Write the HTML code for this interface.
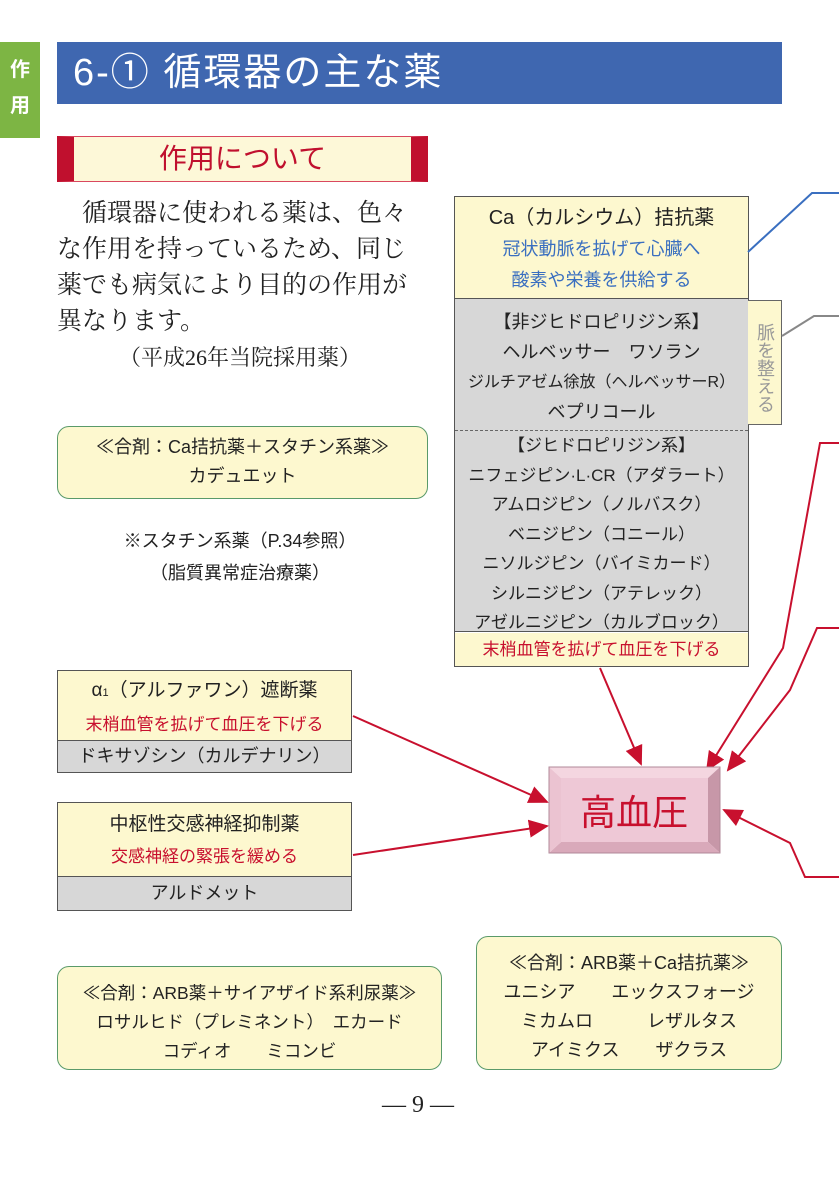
<!DOCTYPE html>
<html><head><meta charset="utf-8"><style>
body{margin:0;width:839px;height:1190px;background:#fff;position:relative;overflow:hidden;font-family:"Liberation Sans","Noto Sans CJK JP",sans-serif;color:#222}
.a{position:absolute;box-sizing:border-box}
.c{text-align:center}
.y{background:#fdf8cf}
.g{background:#d7d7d7}
.r{color:#c8102e}
.b{color:#3a6fc0}
.serif{font-family:"Liberation Serif","Noto Serif CJK SC",serif}
.combo{border:1.5px solid #5a9a6a;border-radius:12px;background:#fdf8cf;text-align:center;font-size:18px;line-height:29px}
</style></head><body>
<div class="a" style="left:0;top:42px;width:40px;height:96px;background:#7db544;color:#fff;font-size:20px;font-weight:bold;line-height:36px;padding-top:10px;text-align:center">作<br>用</div>
<div class="a" style="left:57px;top:42px;width:725px;height:62px;background:#3f67b0;color:#fff;font-size:38px;line-height:62px;padding-left:16px;letter-spacing:2px">6-①&nbsp;循環器の主な薬</div>
<div class="a" style="left:57px;top:136px;width:371px;height:46px;background:#fdf8d8;border:1px solid #d9485f;border-left:17px solid #c0102e;border-right:17px solid #c0102e;color:#c0102e;font-size:28px;line-height:44px;text-align:center">作用について</div>
<div class="a serif" style="left:57px;top:196px;width:380px;font-size:25px;line-height:36px">　循環器に使われる薬は、色々<br>な作用を持っているため、同じ<br>薬でも病気により目的の作用が<br>異なります。</div>
<div class="a serif c" style="left:90px;top:341px;width:300px;font-size:22px">（平成26年当院採用薬）</div>
<div class="a combo" style="left:57px;top:426px;width:371px;height:73px;padding-top:6px">≪合剤：Ca拮抗薬＋スタチン系薬≫<br>カデュエット</div>
<div class="a c" style="left:60px;top:525px;width:360px;font-size:18px;line-height:32px">※スタチン系薬（P.34参照）<br>（脂質異常症治療薬）</div>

<div class="a" style="left:454px;top:196px;width:295px;height:471px;border:1.5px solid #555"></div>
<div class="a y c" style="left:455px;top:197px;width:293px;height:101px;padding-top:6px;font-size:19px;line-height:30px"><span style="font-size:20px">Ca（カルシウム）拮抗薬</span><br><span class="b" style="font-size:18px">冠状動脈を拡げて心臓へ<br>酸素や栄養を供給する</span></div>
<div class="a g c" style="left:455px;top:298px;width:293px;height:334px;border-top:1.5px solid #555;border-bottom:1.5px solid #555;font-size:18px;line-height:29.5px;padding-top:9px">【非ジヒドロピリジン系】<br>ヘルベッサー　ワソラン<br><span style="font-size:16px">ジルチアゼム徐放（ヘルベッサーR）</span><br>ベプリコール<div style="border-top:1.5px dashed #666;margin:3px 0 0"></div><span style="font-size:17px">【ジヒドロピリジン系】<br>ニフェジピン·L·CR（アダラート）<br>アムロジピン（ノルバスク）<br>ベニジピン（コニール）<br>ニソルジピン（バイミカード）<br>シルニジピン（アテレック）<br>アゼルニジピン（カルブロック）</span></div>
<div class="a y c r" style="left:455px;top:633px;width:293px;height:33px;font-size:17px;line-height:33px">末梢血管を拡げて血圧を下げる</div>
<div class="a y" style="left:748px;top:300px;width:34px;height:125px;border:1.5px solid #666;border-left:none;color:#999;font-size:18px;line-height:21px;text-align:center;padding-top:10px;writing-mode:vertical-rl;padding-right:6px">脈を整える</div>

<div class="a" style="left:57px;top:670px;width:295px;height:103px;border:1.5px solid #555"></div>
<div class="a y c" style="left:58px;top:671px;width:293px;height:69px;font-size:19px;line-height:31px;padding-top:4px">α<span style="font-size:11px">1</span>（アルファワン）遮断薬<br><span class="r" style="font-size:17px">末梢血管を拡げて血圧を下げる</span></div>
<div class="a g c" style="left:58px;top:740px;width:293px;height:32px;border-top:1.5px solid #555;font-size:18px;line-height:31px">ドキサゾシン（カルデナリン）</div>

<div class="a" style="left:57px;top:802px;width:295px;height:109px;border:1.5px solid #555"></div>
<div class="a y c" style="left:58px;top:803px;width:293px;height:73px;font-size:19px;line-height:32px;padding-top:6px">中枢性交感神経抑制薬<br><span class="r" style="font-size:17px">交感神経の緊張を緩める</span></div>
<div class="a g c" style="left:58px;top:876px;width:293px;height:34px;border-top:1.5px solid #555;font-size:18px;line-height:33px">アルドメット</div>

<div class="a combo" style="left:57px;top:966px;width:385px;height:104px;padding-top:12px;font-size:17.5px">≪合剤：ARB薬＋サイアザイド系利尿薬≫<br>ロサルヒド（プレミネント）　エカード<br>コディオ　　ミコンビ</div>
<div class="a combo" style="left:476px;top:936px;width:306px;height:134px;padding-top:12px">≪合剤：ARB薬＋Ca拮抗薬≫<br>ユニシア　　エックスフォージ<br>ミカムロ　　　レザルタス<br>アイミクス　　ザクラス</div>
<div class="a serif c" style="left:318px;top:1092px;width:200px;font-size:24px">— 9 —</div>

<svg class="a" style="left:0;top:0" width="839" height="1190">
<defs>
<marker id="M" markerWidth="20" markerHeight="18" refX="18" refY="9" orient="auto" markerUnits="userSpaceOnUse"><path d="M0,0L20,9L0,18z" fill="#c8102e"/></marker></defs>
<polyline points="748,252 812,193 839,193" fill="none" stroke="#3a6fc0" stroke-width="2"/>
<polyline points="782,336 814,316 839,316" fill="none" stroke="#888" stroke-width="2"/>
<g fill="none" stroke="#c8102e" stroke-width="2">
<polyline points="839,443 820,443 783,648 707,770" marker-end="url(#M)"/>
<polyline points="839,628 817,628 790,690 728,770" marker-end="url(#M)"/>
<polyline points="839,877 805,877 790,843 724,810" marker-end="url(#M)"/>
<line x1="600" y1="668" x2="641" y2="764" marker-end="url(#M)"/>
<line x1="353" y1="716" x2="547" y2="802" marker-end="url(#M)"/>
<line x1="353" y1="855" x2="547" y2="826" marker-end="url(#M)"/>
</g>
<polygon points="549,767 720,767 708,778 561,778" fill="#f4d6e0"/>
<polygon points="720,767 720,853 708,842 708,778" fill="#c797a8"/>
<polygon points="549,853 720,853 708,842 561,842" fill="#d9a9ba"/>
<polygon points="549,767 549,853 561,842 561,778" fill="#ebc3d1"/>
<rect x="561" y="778" width="147" height="64" fill="#eec8d6"/>
<rect x="549" y="767" width="171" height="86" fill="none" stroke="#b08898" stroke-width="1"/>
<text x="634" y="825" text-anchor="middle" font-size="36" fill="#c8102e" font-family="Liberation Sans,Noto Sans CJK JP,sans-serif">高血圧</text>
</svg>
</body></html>
